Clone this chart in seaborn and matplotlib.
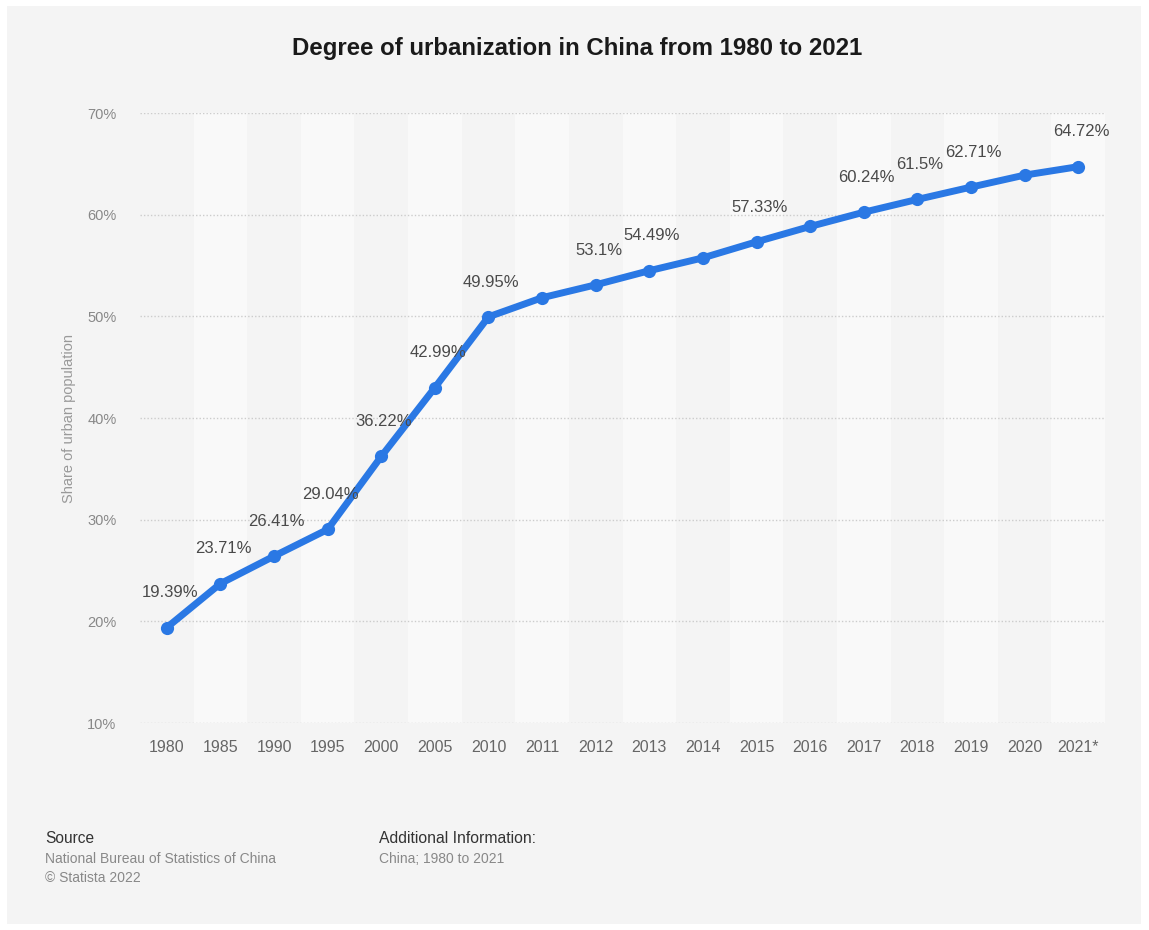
import matplotlib.pyplot as plt
import matplotlib.patches as mpatches
import seaborn as sns
import numpy as np
import pandas as pd

# data
years = ["1980", "1985", "1990", "1995", "2000", "2005", "2010", "2011", "2012",
         "2013", "2014", "2015", "2016", "2017", "2018", "2019", "2020", "2021*"]
share = [19.39, 23.71, 26.41, 29.04, 36.22, 42.99, 49.95, 51.83, 53.1,
         54.49, 55.75, 57.33, 58.84, 60.24, 61.5, 62.71, 63.89, 64.72]
labels = ["19.39%", "23.71%", "26.41%", "29.04%", "36.22%", "42.99%", "49.95%", None, "53.1%",
          "54.49%", None, "57.33%", None, "60.24%", "61.5%", "62.71%", None, "64.72%"]
y_ticks = [10, 20, 30, 40, 50, 60, 70]

df = pd.DataFrame({"pos": np.arange(len(years)), "share": share})

sns.set_style("white")
plt.rcParams["font.family"] = ["Liberation Sans", "DejaVu Sans"]

BG = "#f4f4f4"
BAND = "#f9f9f9"
LINE = "#2a78e4"

fig = plt.figure(figsize=(11.49, 9.3), dpi=100, facecolor="white")
# grey panel behind everything
fig.patches.append(mpatches.Rectangle((7 / 1149, 6 / 930), 1134 / 1149, 918 / 930,
                                      transform=fig.transFigure, facecolor=BG,
                                      edgecolor="none", zorder=-10))

ax = fig.add_axes([140 / 1149, 1 - 723 / 930, 965 / 1149, 610 / 930])
ax.set_facecolor(BG)
for s in ax.spines.values():
    s.set_visible(False)

# alternating column bands
for i in range(len(years)):
    if i % 2 == 1:
        ax.axvspan(i - 0.5, i + 0.5, color=BAND, zorder=0, lw=0)

for t in y_ticks:
    ax.axhline(t, color="#cccccc", lw=1, ls=(0, (1, 1.5)), zorder=1)

sns.lineplot(data=df, x="pos", y="share", ax=ax, color=LINE, lw=5, marker="o",
             markersize=9.5, markeredgewidth=0, zorder=3)

for i, (v, lab) in enumerate(zip(share, labels)):
    if lab:
        ax.annotate(lab, (i, v), xytext=(2, 25), textcoords="offset points",
                    ha="center", va="center", fontsize=12, color="#4a4a4a", zorder=4)

ax.set_xlim(-0.5, len(years) - 0.5)
ax.set_ylim(10, 70)
ax.set_xticks(df["pos"])
ax.set_xticklabels(years, fontsize=11.5, color="#666666")
ax.set_yticks(y_ticks)
ax.set_yticklabels([f"{t}%" for t in y_ticks], fontsize=10.5, color="#888888")
ax.tick_params(axis="both", length=0)
ax.tick_params(axis="x", pad=12)
ax.tick_params(axis="y", pad=17)
ax.set_xlabel("")
ax.set_ylabel("Share of urban population", fontsize=10.5, color="#999999", labelpad=8)

fig.text(577 / 1149, 1 - 48 / 930, "Degree of urbanization in China from 1980 to 2021",
         ha="center", va="center", fontsize=17.3, fontweight="bold", color="#1a1a1a")

# footer
fig.text(45 / 1149, 1 - 838 / 930, "Source", fontsize=11.2, color="#333333", va="center")
fig.text(45 / 1149, 1 - 859 / 930, "National Bureau of Statistics of China", fontsize=10,
         color="#888888", va="center")
fig.text(45 / 1149, 1 - 878 / 930, "\u00a9 Statista 2022", fontsize=10, color="#888888", va="center")
fig.text(379 / 1149, 1 - 838 / 930, "Additional Information:", fontsize=11.3, color="#333333", va="center")
fig.text(379 / 1149, 1 - 859 / 930, "China; 1980 to 2021", fontsize=10, color="#888888", va="center")

fig.savefig("out.png", dpi=100, facecolor="white")
